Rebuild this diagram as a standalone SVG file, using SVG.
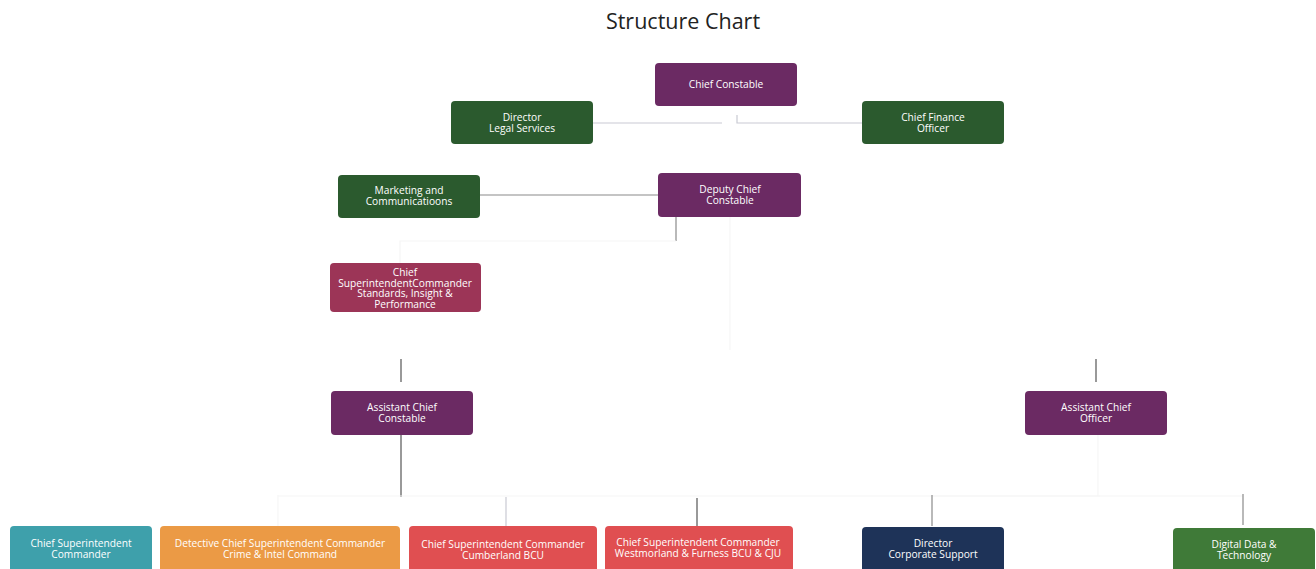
<svg xmlns="http://www.w3.org/2000/svg" width="1316" height="569" viewBox="0 0 1316 569">
<style>
.t{font-family:"Open Sans","Liberation Sans",sans-serif;font-size:10.2px;fill:#ffffff;text-anchor:middle}
.title{font-family:"Open Sans","Liberation Sans",sans-serif;font-size:21.5px;fill:#222222;text-anchor:middle}
.c{stroke:#8a8a8a;stroke-width:1.2;fill:none}
.cd{stroke:#555555;stroke-width:1.2;fill:none}
.cl{stroke:#c9cad3;stroke-width:1.2;fill:none}
.cf{stroke:#f6f6f6;stroke-width:1.2;fill:none}
</style>
<rect width="1316" height="569" fill="#ffffff"/>
<text class="title" x="683" y="29">Structure Chart</text>
<g id="connectors">
<path class="cl" d="M593 123H722"/>
<path class="cl" d="M737 115V123H862"/>
<path class="c" d="M480 195H658"/>
<path class="c" d="M676 217V241"/>
<path class="cf" d="M676 241H400V263"/>
<path class="cf" d="M730 217V350"/>
<path class="cd" d="M401 359V382"/>
<path class="cd" d="M401 435V497"/>
<path class="cf" d="M278 495V526"/>
<path class="cf" d="M278 496H1100"/>
<path class="cl" d="M506 497V526"/>
<path class="cd" d="M697 498V526"/>
<path class="cd" d="M1096 359V382"/>
<path class="cf" d="M1098 435V496"/>
<path class="cf" d="M933 496H1243"/>
<path class="c" d="M932 495V526"/>
<path class="c" d="M1243 494V525"/>
</g>
<g id="chief-constable"><rect x="655" y="63" width="142" height="43" rx="4" fill="#6b2a63"/><text class="t" x="726" y="88">Chief Constable</text></g>
<g id="director-legal"><rect x="451" y="101" width="142" height="43" rx="4" fill="#2b5a2e"/><text class="t" x="522" y="121">Director</text><text class="t" x="522" y="132">Legal Services</text></g>
<g id="chief-finance"><rect x="862" y="101" width="142" height="43" rx="4" fill="#2b5a2e"/><text class="t" x="933" y="121">Chief Finance</text><text class="t" x="933" y="132">Officer</text></g>
<g id="marketing"><rect x="338" y="175" width="142" height="43" rx="4" fill="#2b5a2e"/><text class="t" x="409" y="194">Marketing and</text><text class="t" x="409" y="205">Communicatioons</text></g>
<g id="deputy-chief"><rect x="658" y="173" width="143" height="44" rx="4" fill="#6b2a63"/><text class="t" x="730" y="193">Deputy Chief</text><text class="t" x="730" y="204">Constable</text></g>
<g id="standards"><rect x="330" y="263" width="151" height="49" rx="4" fill="#9c3557"/><text class="t" x="405" y="276">Chief</text><text class="t" x="405" y="286.5">SuperintendentCommander</text><text class="t" x="405" y="297">Standards, Insight &amp;</text><text class="t" x="405" y="307.5">Performance</text></g>
<g id="acc"><rect x="331" y="391" width="142" height="44" rx="4" fill="#6b2a63"/><text class="t" x="402" y="411">Assistant Chief</text><text class="t" x="402" y="422">Constable</text></g>
<g id="aco"><rect x="1025" y="391" width="142" height="44" rx="4" fill="#6b2a63"/><text class="t" x="1096" y="411">Assistant Chief</text><text class="t" x="1096" y="422">Officer</text></g>
<g id="cs-commander"><rect x="10" y="526" width="142" height="48" rx="4" fill="#3ea0ab"/><text class="t" x="81" y="547">Chief Superintendent</text><text class="t" x="81" y="557.5">Commander</text></g>
<g id="det-crime"><rect x="160" y="526" width="240" height="48" rx="4" fill="#eb9a45"/><text class="t" x="280" y="547">Detective Chief Superintendent Commander</text><text class="t" x="280" y="557.5">Crime &amp; Intel Command</text></g>
<g id="cumberland"><rect x="409" y="526" width="188" height="48" rx="4" fill="#e04f51"/><text class="t" x="503" y="548">Chief Superintendent Commander</text><text class="t" x="503" y="558.5">Cumberland BCU</text></g>
<g id="westmorland"><rect x="605" y="526" width="188" height="48" rx="4" fill="#e04f51"/><text class="t" x="698" y="546">Chief Superintendent Commander</text><text class="t" x="698" y="557">Westmorland &amp; Furness BCU &amp; CJU</text></g>
<g id="corporate-support"><rect x="862" y="527" width="142" height="47" rx="4" fill="#1e3358"/><text class="t" x="933" y="547">Director</text><text class="t" x="933" y="558">Corporate Support</text></g>
<g id="digital"><rect x="1173" y="528" width="142" height="46" rx="4" fill="#3f7a38"/><text class="t" x="1244" y="548">Digital Data &amp;</text><text class="t" x="1244" y="559">Technology</text></g>
</svg>
